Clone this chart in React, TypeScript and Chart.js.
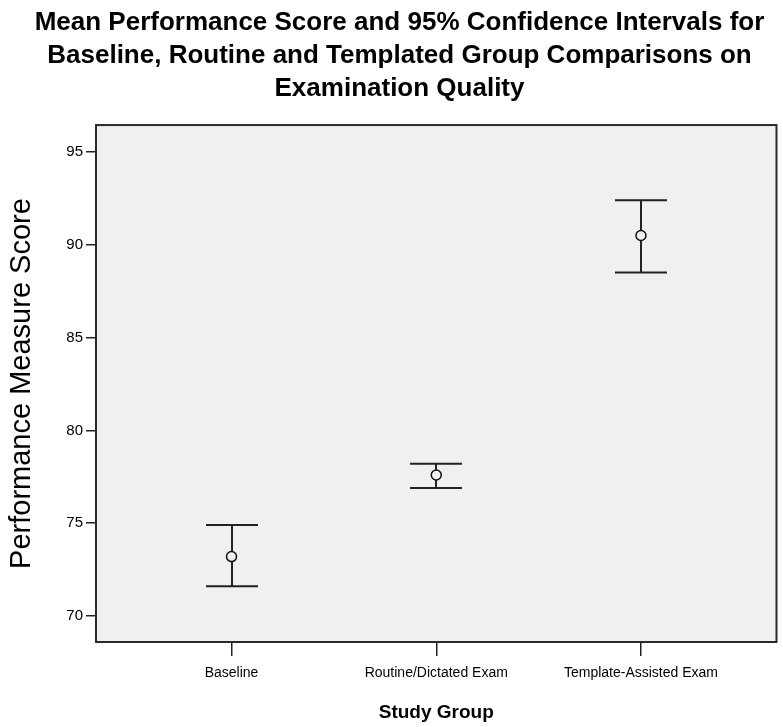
import React, { useEffect, useRef } from 'react';
import { Chart, registerables } from 'chart.js';

Chart.register(...registerables);

const categories = ['Baseline', 'Routine/Dictated Exam', 'Template-Assisted Exam'];
const means = [73.2, 77.6, 90.5];
const lowerCI = [71.6, 76.9, 88.5];
const upperCI = [74.9, 78.2, 92.4];
const yTicks = [70, 75, 80, 85, 90, 95];
const titleLines = [
  'Mean Performance Score and 95% Confidence Intervals for',
  'Baseline, Routine and Templated Group Comparisons on',
  'Examination Quality',
];
const yTitle = 'Performance Measure Score';
const xTitle = 'Study Group';

const NARROW = "'Liberation Sans Narrow', 'Arial Narrow', 'Liberation Sans', Arial, sans-serif";
const SANS = "'Liberation Sans', Arial, sans-serif";

const boxPlugin = {
  id: 'plotBox',
  beforeDraw(chart: any) {
    const { ctx, chartArea: a } = chart;
    ctx.save();
    ctx.fillStyle = '#ffffff';
    ctx.fillRect(0, 0, chart.width, chart.height);
    ctx.fillStyle = '#f0f0f0';
    ctx.fillRect(a.left, a.top, a.right - a.left, a.bottom - a.top);
    ctx.restore();
  },
  afterDraw(chart: any) {
    const { ctx, chartArea: a } = chart;
    ctx.save();
    ctx.strokeStyle = '#2a2a2a';
    ctx.lineWidth = 2;
    ctx.strokeRect(a.left, a.top, a.right - a.left, a.bottom - a.top);
    ctx.restore();
  },
};

const errorBarPlugin = {
  id: 'errorBars',
  beforeDatasetsDraw(chart: any) {
    const { ctx } = chart;
    const xs = chart.scales.x;
    const ys = chart.scales.y;
    const capHalf = 26;
    ctx.save();
    ctx.strokeStyle = '#222222';
    ctx.lineWidth = 2;
    categories.forEach((_, i) => {
      const px = Math.round(xs.getPixelForValue(i + 1));
      const yTop = ys.getPixelForValue(upperCI[i]);
      const yBot = ys.getPixelForValue(lowerCI[i]);
      ctx.beginPath();
      ctx.moveTo(px, yTop);
      ctx.lineTo(px, yBot);
      ctx.moveTo(px - capHalf, yTop);
      ctx.lineTo(px + capHalf, yTop);
      ctx.moveTo(px - capHalf, yBot);
      ctx.lineTo(px + capHalf, yBot);
      ctx.stroke();
    });
    ctx.restore();
  },
};

export default function App() {
  const canvasRef = useRef<HTMLCanvasElement | null>(null);

  useEffect(() => {
    const canvas = canvasRef.current;
    if (!canvas) return;
    const chart = new Chart(canvas, {
      type: 'scatter',
      data: {
        datasets: [
          {
            label: 'Mean',
            data: means.map((m, i) => ({ x: i + 1, y: m })),
            pointStyle: 'circle',
            pointRadius: 5,
            pointHoverRadius: 5,
            backgroundColor: '#f0f0f0',
            borderColor: '#111111',
            borderWidth: 1.5,
          },
        ],
      },
      options: {
        responsive: false,
        animation: false,
        events: [],
        layout: { padding: { top: 0, right: 4, bottom: 0, left: 20 } },
        plugins: {
          legend: { display: false },
          tooltip: { enabled: false },
          title: {
            display: true,
            text: titleLines,
            color: '#000',
            font: { family: NARROW, size: 26, weight: 'bold', lineHeight: 1.27 },
            padding: { top: 6, bottom: 20 },
          },
        },
        scales: {
          x: {
            type: 'linear',
            min: 0.338,
            max: 3.662,
            afterBuildTicks: (s: any) => {
              s.ticks = categories.map((_, i) => ({ value: i + 1 }));
            },
            afterFit: (s: any) => {
              s.height = 85;
            },
            ticks: {
              autoSkip: false,
              maxRotation: 0,
              color: '#000',
              padding: 9,
              font: { family: NARROW, size: 14 },
              callback: (v: any) => categories[Number(v) - 1] ?? '',
            },
            grid: {
              drawOnChartArea: false,
              drawTicks: true,
              tickLength: 14,
              color: '#222',
              lineWidth: 1.5,
            },
            border: { display: false },
            title: {
              display: true,
              text: xTitle,
              color: '#000',
              font: { family: NARROW, size: 19, weight: 'bold' },
              padding: { top: 0, bottom: 3 },
            },
          },
          y: {
            type: 'linear',
            min: 68.6,
            max: 96.45,
            afterBuildTicks: (s: any) => {
              s.ticks = yTicks.map((v) => ({ value: v }));
            },
            afterFit: (s: any) => {
              s.width = 76;
            },
            ticks: {
              color: '#000',
              padding: 3,
              font: { family: NARROW, size: 15 },
            },
            grid: {
              drawOnChartArea: false,
              drawTicks: true,
              tickLength: 10,
              color: '#222',
              lineWidth: 1.5,
            },
            border: { display: false },
            title: {
              display: true,
              text: yTitle,
              color: '#000',
              font: { family: SANS, size: 29 },
              padding: { top: -15, bottom: 0 },
            },
          },
        },
      },
      plugins: [boxPlugin, errorBarPlugin],
    } as any);
    return () => chart.destroy();
  }, []);

  return (
    <div style={{ position: 'fixed', left: 0, top: 0, width: 783, height: 727, background: '#fff' }}>
      <canvas ref={canvasRef} width={783} height={727} style={{ display: 'block' }} />
    </div>
  );
}
